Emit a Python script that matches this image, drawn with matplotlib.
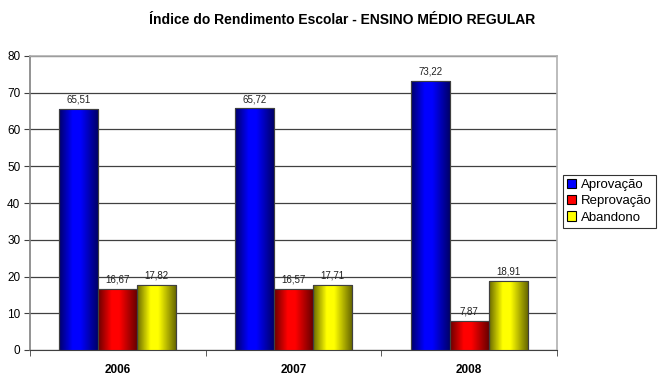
import numpy as np
import matplotlib
matplotlib.use("Agg")
import matplotlib.pyplot as plt
from matplotlib.colors import LinearSegmentedColormap
from matplotlib.patches import Patch

plt.rcParams['font.family'] = ['Liberation Sans', 'DejaVu Sans']

categories = ["2006", "2007", "2008"]
series_names = ["Aprovação", "Reprovação", "Abandono"]
aprovacao = [65.51, 65.72, 73.22]
reprovacao = [16.67, 16.57, 7.87]
abandono = [17.82, 17.71, 18.91]
title = "Índice do Rendimento Escolar - ENSINO MÉDIO REGULAR"

series = [aprovacao, reprovacao, abandono]
dark = ["#00006a", "#6a0000", "#6a6a00"]
bright = ["#0000ff", "#ff0000", "#ffff00"]
legend_colors = ["#0000ff", "#ff0000", "#ffff00"]

fig = plt.figure(figsize=(6.6, 3.85), dpi=100)
ax = fig.add_axes([30/660, 1-350/385, (557-30)/660, (350-56)/385])

x = np.arange(len(categories))
bw = 0.222
grad = np.linspace(0, 1, 64)
prof = np.interp(grad, [0, 0.35, 0.55, 1.0], [0.0, 1.0, 1.0, 0.0]).reshape(1, -1)

for i, (vals, d, b) in enumerate(zip(series, dark, bright)):
    bars = ax.bar(x + (i - 1) * bw, vals, width=bw, color=b, edgecolor="#404040",
                  linewidth=0.8, zorder=3)
    cmap = LinearSegmentedColormap.from_list("g%d" % i, [d, b])
    for rect, v in zip(bars, vals):
        x0, w, h = rect.get_x(), rect.get_width(), rect.get_height()
        im = ax.imshow(prof, cmap=cmap, aspect='auto', extent=[x0, x0 + w, 0, h],
                       zorder=3.5, interpolation='bilinear', vmin=0, vmax=1)
        im.set_clip_path(rect)
        ax.add_patch(plt.Rectangle((x0, 0), w, h, fill=False, edgecolor="#404040",
                                   linewidth=0.8, zorder=4))
        ax.text(x0 + w / 2, h + 1.2, ("%.2f" % v).replace(".", ","), ha='center',
                va='bottom', fontsize=7, color="#222222", zorder=5)

ax.set_xlim(-0.5, len(categories) - 0.5)
ax.set_ylim(0, 80)
ax.set_yticks(np.arange(0, 81, 10))
ax.set_yticklabels([str(v) for v in range(0, 81, 10)], fontsize=8.5)
ax.set_xticks(x)
ax.set_xticklabels(categories, fontsize=8.5, fontweight='bold')
ax.set_xticks(np.arange(-0.5, len(categories), 1), minor=True)
ax.tick_params(axis='x', which='major', length=0, pad=10)
ax.tick_params(axis='x', which='minor', length=4, color="#404040", direction='out')
ax.tick_params(axis='y', length=4, color="#404040", direction='out', pad=3)
ax.yaxis.grid(True, color="#404040", linewidth=0.9, zorder=0)
ax.set_axisbelow(True)
ax.spines['top'].set_color("#b0b0b0")
ax.spines['top'].set_linewidth(1.2)
ax.spines['right'].set_color("#b0b0b0")
ax.spines['right'].set_linewidth(1.2)
ax.spines['left'].set_color("#808080")
ax.spines['left'].set_linewidth(1.2)
ax.spines['bottom'].set_color("#404040")

fig.text(342/660, 1-20/385, title, ha='center', va='center', fontsize=10, fontweight='bold')

handles = [Patch(facecolor=c, edgecolor='black', linewidth=0.8) for c in legend_colors]
leg = fig.legend(handles, series_names, loc='upper left', bbox_to_anchor=(563/660, 1-175/385),
                 fontsize=9.5, frameon=True, fancybox=False, edgecolor='black',
                 handlelength=0.7, handleheight=0.7, handletextpad=0.35, borderpad=0.3,
                 labelspacing=0.3, borderaxespad=0)
leg.get_frame().set_linewidth(0.8)

fig.savefig("out.png", dpi=100, facecolor='white')
